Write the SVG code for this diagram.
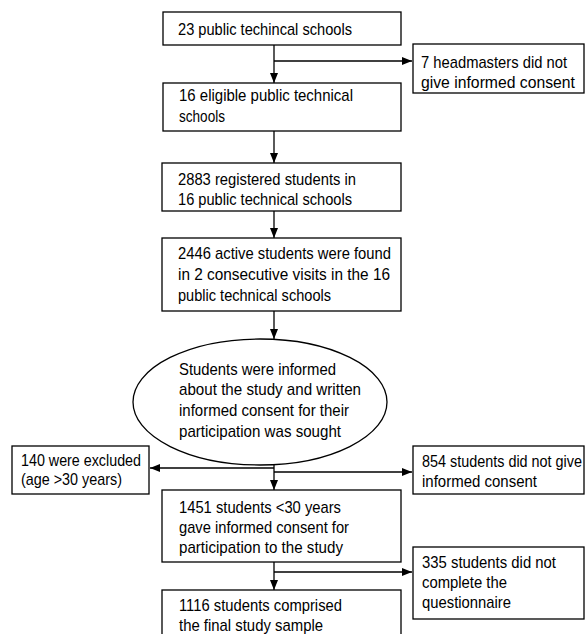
<svg xmlns="http://www.w3.org/2000/svg" width="585" height="634" viewBox="0 0 585 634">
<style>
.b{fill:#fff;stroke:#000;stroke-width:1.3}
.t{font-family:"Liberation Sans",Arial,sans-serif;font-size:17px;fill:#000}
.c{fill:none;stroke:#000;stroke-width:1.3}
</style>
<defs>
<marker id="a" viewBox="0 0 10 8" refX="10" refY="4" markerWidth="10" markerHeight="8" markerUnits="userSpaceOnUse" orient="auto">
<path d="M0,0L10,4L0,8z" fill="#000"/>
</marker>
</defs>
<rect width="585" height="634" fill="#fff"/>
<g id="connectors">
<path class="c" d="M274,45V83" marker-end="url(#a)"/>
<path class="c" d="M274,61H412" marker-end="url(#a)"/>
<path class="c" d="M274,131V163" marker-end="url(#a)"/>
<path class="c" d="M274,211V238" marker-end="url(#a)"/>
<path class="c" d="M274,311V339" marker-end="url(#a)"/>
<path class="c" d="M274,465V490" marker-end="url(#a)"/>
<path class="c" d="M274,468H150" marker-end="url(#a)"/>
<path class="c" d="M274,472H412" marker-end="url(#a)"/>
<path class="c" d="M274,562V590" marker-end="url(#a)"/>
<path class="c" d="M274,572H412" marker-end="url(#a)"/>
</g>
<g id="n1"><rect class="b" x="163" y="12" width="238" height="33"/><text class="t" x="178" y="35" textLength="174" lengthAdjust="spacingAndGlyphs">23 public techincal schools</text></g>
<g id="n2"><rect class="b" x="413" y="44" width="171" height="49"/><text class="t" x="421" y="68" textLength="146" lengthAdjust="spacingAndGlyphs">7 headmasters did not</text><text class="t" x="421" y="88" textLength="154" lengthAdjust="spacingAndGlyphs">give informed consent</text></g>
<g id="n3"><rect class="b" x="163" y="83" width="238" height="48"/><text class="t" x="179" y="101" textLength="174" lengthAdjust="spacingAndGlyphs">16 eligible public technical</text><text class="t" x="179" y="122" textLength="46" lengthAdjust="spacingAndGlyphs">schools</text></g>
<g id="n4"><rect class="b" x="162" y="163" width="239" height="48"/><text class="t" x="178" y="185" textLength="178" lengthAdjust="spacingAndGlyphs">2883 registered students in</text><text class="t" x="178" y="205" textLength="174" lengthAdjust="spacingAndGlyphs">16 public technical schools</text></g>
<g id="n5"><rect class="b" x="162" y="238" width="239" height="73"/><text class="t" x="178" y="259" textLength="213" lengthAdjust="spacingAndGlyphs">2446 active students were found</text><text class="t" x="178" y="280" textLength="212" lengthAdjust="spacingAndGlyphs">in 2 consecutive visits in the 16</text><text class="t" x="178" y="301" textLength="153" lengthAdjust="spacingAndGlyphs">public technical schools</text></g>
<g id="n6"><ellipse class="b" cx="260" cy="402" rx="127" ry="63"/><text class="t" x="179" y="375" textLength="157" lengthAdjust="spacingAndGlyphs">Students were informed</text><text class="t" x="179" y="395" textLength="182" lengthAdjust="spacingAndGlyphs">about the study and written</text><text class="t" x="179" y="416" textLength="170" lengthAdjust="spacingAndGlyphs">informed consent for their</text><text class="t" x="179" y="437" textLength="162" lengthAdjust="spacingAndGlyphs">participation was sought</text></g>
<g id="n7"><rect class="b" x="12" y="446" width="137" height="48"/><text class="t" x="21" y="466" textLength="120" lengthAdjust="spacingAndGlyphs">140 were excluded</text><text class="t" x="21" y="485" textLength="101" lengthAdjust="spacingAndGlyphs">(age &gt;30 years)</text></g>
<g id="n8"><rect class="b" x="413" y="446" width="171" height="48"/><text class="t" x="422" y="467" textLength="160" lengthAdjust="spacingAndGlyphs">854 students did not give</text><text class="t" x="422" y="487" textLength="115" lengthAdjust="spacingAndGlyphs">informed consent</text></g>
<g id="n9"><rect class="b" x="162" y="490" width="239" height="72"/><text class="t" x="179" y="513" textLength="162" lengthAdjust="spacingAndGlyphs">1451 students &lt;30 years</text><text class="t" x="179" y="533" textLength="170" lengthAdjust="spacingAndGlyphs">gave informed consent for</text><text class="t" x="179" y="553" textLength="164" lengthAdjust="spacingAndGlyphs">participation to the study</text></g>
<g id="n10"><rect class="b" x="413" y="547" width="171" height="72"/><text class="t" x="422" y="568" textLength="134" lengthAdjust="spacingAndGlyphs">335 students did not</text><text class="t" x="422" y="588" textLength="85" lengthAdjust="spacingAndGlyphs">complete the</text><text class="t" x="422" y="608" textLength="89" lengthAdjust="spacingAndGlyphs">questionnaire</text></g>
<g id="n11"><rect class="b" x="162" y="590" width="239" height="60"/><text class="t" x="179" y="611" textLength="163" lengthAdjust="spacingAndGlyphs">1116 students comprised</text><text class="t" x="179" y="631" textLength="144" lengthAdjust="spacingAndGlyphs">the final study sample</text></g>
</svg>
